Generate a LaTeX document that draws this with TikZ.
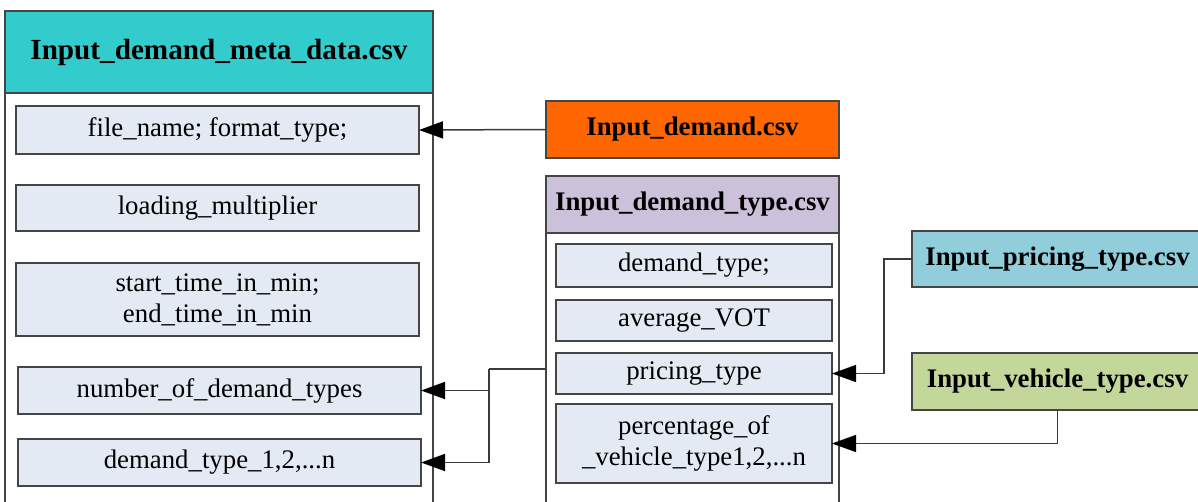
\documentclass[tikz,border=0pt]{standalone}
\usepackage{fontspec}
\setmainfont{Liberation Serif}
\usetikzlibrary{arrows.meta}
\definecolor{edge}{HTML}{454545}
\definecolor{wire}{HTML}{3A3A3A}
\definecolor{itemfill}{HTML}{E4EAF4}
\definecolor{metahead}{HTML}{33CCCC}
\definecolor{demandhead}{HTML}{FF6600}
\definecolor{typehead}{HTML}{CCC1DA}
\definecolor{pricehead}{HTML}{92CDDC}
\definecolor{vehhead}{HTML}{C4D79B}
\tikzset{
  box/.style={draw=edge, line width=1.4pt, inner sep=0pt, outer sep=0pt,
    anchor=north west, align=center},
  item/.style={box, fill=itemfill, font=\fontsize{26.8}{31}\selectfont},
  head/.style={box, font=\fontsize{26.8}{31}\selectfont\bfseries},
  body/.style={box, fill=white},
  wireline/.style={draw=wire, line width=1.5pt},
  link/.style={wireline, -{Triangle[length=24pt,width=17pt,fill=black,color=black]}},
}
\begin{document}
\begin{tikzpicture}[x=1pt, y=-1pt]
\useasboundingbox (0,0) rectangle (1198,501);
\clip (0,0) rectangle (1198,501);

% ---- Input_demand_meta_data.csv ----
\node[body, minimum width=428pt, minimum height=430pt] (metabody) at (5,93) {};
\node[head, fill=metahead, minimum width=428pt, minimum height=82pt,
  font=\fontsize{29.2}{34}\selectfont\bfseries] (metahead) at (5,11) {Input\_demand\_meta\_data.csv};
\node[item, minimum width=403pt, minimum height=48pt] (fname) at (16,106) {file\_name; format\_type;};
\node[item, minimum width=403pt, minimum height=46pt] (load) at (16,185) {loading\_multiplier};
\node[item, minimum width=403pt, minimum height=73pt] (stime) at (16,263) {start\_time\_in\_min;\\end\_time\_in\_min};
\node[item, minimum width=403pt, minimum height=47pt] (ntypes) at (18,367) {number\_of\_demand\_types};
\node[item, minimum width=403pt, minimum height=47pt] (dtn) at (18,439) {demand\_type\_1,2,...n};

% ---- Input_demand.csv ----
\node[head, fill=demandhead, minimum width=293pt, minimum height=57pt] (demand) at (546,101) {Input\_demand.csv};

% ---- Input_demand_type.csv ----
\node[body, minimum width=293pt, minimum height=300pt] (dtbody) at (546,233) {};
\node[head, fill=typehead, minimum width=293pt, minimum height=57pt] (dthead) at (546,176) {Input\_demand\_type.csv};
\node[item, minimum width=276pt, minimum height=43pt] (dtype) at (556,244) {demand\_type;};
\node[item, minimum width=276pt, minimum height=41pt] (vot) at (556,300) {average\_VOT};
\node[item, minimum width=276pt, minimum height=41pt] (ptype) at (556,353) {pricing\_type};
\node[item, minimum width=276pt, minimum height=79pt] (pct) at (556,404) {percentage\_of\\\_vehicle\_type1,2,...n};

% ---- Input_pricing_type.csv / Input_vehicle_type.csv ----
\node[head, fill=pricehead, minimum width=291pt, minimum height=56pt] (pricing) at (912,231) {Input\_pricing\_type.csv};
\node[head, fill=vehhead, minimum width=291pt, minimum height=57pt] (vehicle) at (912,353) {Input\_vehicle\_type.csv};

% ---- connectors ----
\coordinate (dtout) at (546,369);
\coordinate (split) at (489,369);
\draw[link] (demand.west) -- (fname.east);
\draw[wireline] (dtout) -- (split);
\draw[link] (split) |- (ntypes.east);
\draw[link] (split) |- (dtn.east);
\draw[link] (pricing.west) -- ++(-28,0) |- (ptype.east);
\draw[link] (vehicle.south) |- (pct.east);
\end{tikzpicture}
\end{document}
